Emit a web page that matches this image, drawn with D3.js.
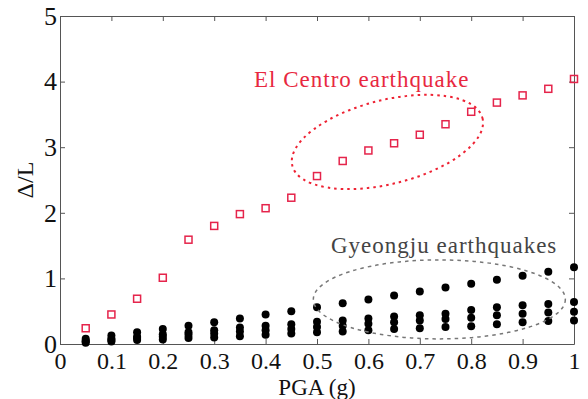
<!DOCTYPE html>
<html>
<head>
<meta charset="utf-8">
<script src="https://cdn.jsdelivr.net/npm/d3@7"></script>
<style>
  body { margin: 0; background: #fff; }
  text { font-family: "Liberation Serif", "Times New Roman", serif; }
</style>
</head>
<body>
<script>
const pga = [0.05, 0.1, 0.15, 0.2, 0.25, 0.3, 0.35, 0.4, 0.45, 0.5,
             0.55, 0.6, 0.65, 0.7, 0.75, 0.8, 0.85, 0.9, 0.95, 1.0];
const elCentro = [0.24, 0.45, 0.69, 1.01, 1.59, 1.80, 1.98, 2.07, 2.23, 2.56,
                  2.79, 2.95, 3.06, 3.19, 3.35, 3.54, 3.68, 3.79, 3.89, 4.04];
const gyeongju1 = [0.08, 0.13, 0.18, 0.23, 0.28, 0.33, 0.39, 0.45, 0.50, 0.56,
                   0.62, 0.68, 0.74, 0.80, 0.86, 0.92, 0.98, 1.04, 1.10, 1.17];
const gyeongju2 = [0.05, 0.08, 0.11, 0.15, 0.18, 0.21, 0.25, 0.28, 0.30, 0.34,
                   0.36, 0.39, 0.42, 0.44, 0.46, 0.52, 0.56, 0.59, 0.61, 0.64];
const gyeongju3 = [0.04, 0.06, 0.09, 0.11, 0.14, 0.16, 0.19, 0.21, 0.23, 0.26,
                   0.28, 0.31, 0.33, 0.36, 0.38, 0.40, 0.44, 0.46, 0.48, 0.49];
const gyeongju4 = [0.02, 0.04, 0.06, 0.07, 0.09, 0.10, 0.12, 0.14, 0.16, 0.18,
                   0.19, 0.21, 0.23, 0.24, 0.26, 0.27, 0.30, 0.33, 0.35, 0.36];
const xTicks = [0, 0.1, 0.2, 0.3, 0.4, 0.5, 0.6, 0.7, 0.8, 0.9, 1];
const yTicks = [0, 1, 2, 3, 4, 5];

const width = 588, height = 399;
const margin = {top: 16, right: 14, bottom: 55, left: 60};

const svg = d3.select("body").append("svg")
    .attr("width", width)
    .attr("height", height);

const x = d3.scaleLinear().domain([0, 1]).range([margin.left, width - margin.right]);
const y = d3.scaleLinear().domain([0, 5]).range([height - margin.bottom, margin.top]);

const axisColor = "#555";
function styleAxis(g, size) {
  g.selectAll(".domain").attr("stroke", axisColor);
  g.selectAll(".tick line").attr("stroke", axisColor);
  g.selectAll(".tick text")
    .attr("fill", "#111")
    .style("font-family", '"Liberation Serif", serif')
    .style("font-size", (size || 24) + "px");
}

svg.append("g")
  .attr("transform", `translate(0,${y(0)})`)
  .call(d3.axisBottom(x).tickValues(xTicks).tickSize(-5).tickSizeOuter(0).tickPadding(8)
        .tickFormat(d3.format("")))
  .call(styleAxis, 24);
svg.append("g")
  .attr("transform", `translate(0,${y(5)})`)
  .call(d3.axisTop(x).tickValues(xTicks).tickSize(-5).tickSizeOuter(0).tickFormat(""))
  .call(styleAxis);
svg.append("g")
  .attr("transform", `translate(${x(0)},0)`)
  .call(d3.axisLeft(y).tickValues(yTicks).tickSize(-5).tickSizeOuter(0).tickPadding(3)
        .tickFormat(d3.format("d")))
  .call(styleAxis, 26);
svg.append("g")
  .attr("transform", `translate(${x(1)},0)`)
  .call(d3.axisRight(y).tickValues(yTicks).tickSize(-5).tickSizeOuter(0).tickFormat(""))
  .call(styleAxis);

// axis titles
svg.append("text")
  .attr("x", (x(0) + x(1)) / 2)
  .attr("y", 395)
  .attr("text-anchor", "middle")
  .style("font-size", "23px")
  .attr("fill", "#111")
  .text("PGA (g)");
svg.append("text")
  .attr("transform", `translate(33,${(y(0) + y(5)) / 2}) rotate(-90)`)
  .attr("text-anchor", "middle")
  .style("font-size", "24px")
  .attr("fill", "#111")
  .text("Δ/L");

// Gyeongju points
const gSeries = [gyeongju4, gyeongju3, gyeongju2, gyeongju1];
const dots = svg.append("g");
gSeries.forEach(s => {
  dots.selectAll(null)
    .data(pga.map((p, i) => [p, s[i]]))
    .enter().append("circle")
    .attr("cx", d => x(d[0]))
    .attr("cy", d => y(d[1]))
    .attr("r", 4)
    .attr("fill", "#000");
});

// El Centro points
const sq = 7;
svg.append("g").selectAll("rect")
  .data(pga.map((p, i) => [p, elCentro[i]]))
  .enter().append("rect")
  .attr("x", d => x(d[0]) - sq / 2)
  .attr("y", d => y(d[1]) - sq / 2)
  .attr("width", sq)
  .attr("height", sq)
  .attr("fill", "none")
  .attr("stroke", "#e5244b")
  .attr("stroke-width", 1.5);

// annotations
const redEll = {cx: 0.637, cy: 3.08};
const grayEll = {cx: 0.738, cy: 0.68};
svg.append("ellipse")
  .attr("transform", `translate(${x(redEll.cx)},${y(redEll.cy)}) rotate(-14)`)
  .attr("rx", 98).attr("ry", 42)
  .attr("fill", "none")
  .attr("stroke", "#ee2233")
  .attr("stroke-width", 2)
  .attr("stroke-dasharray", "2.5 4");
svg.append("ellipse")
  .attr("transform", `translate(${x(grayEll.cx)},${y(grayEll.cy)})`)
  .attr("rx", 126).attr("ry", 39.5)
  .attr("fill", "none")
  .attr("stroke", "#777")
  .attr("stroke-width", 1.5)
  .attr("stroke-dasharray", "3.5 4");

svg.append("text")
  .attr("x", 254).attr("y", 87)
  .style("font-size", "23px")
  .style("letter-spacing", "1px")
  .attr("fill", "#e8283f")
  .text("El Centro earthquake");
svg.append("text")
  .attr("x", 331).attr("y", 253)
  .style("font-size", "23px")
  .style("letter-spacing", "1px")
  .attr("fill", "#444")
  .text("Gyeongju earthquakes");
</script>
</body>
</html>
